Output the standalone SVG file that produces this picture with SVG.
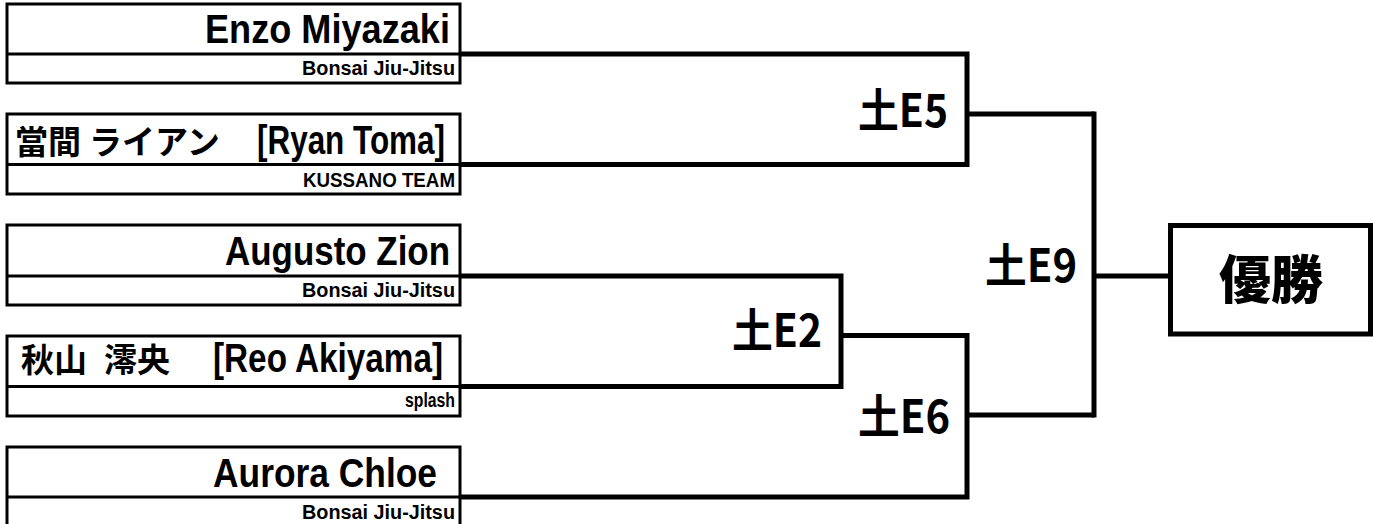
<svg xmlns="http://www.w3.org/2000/svg" width="1373" height="524" viewBox="0 0 1373 524">
<style>
.bx{fill:#fff;stroke:#000;stroke-width:3}
.dv{stroke:#000;stroke-width:3}
.nm{font-family:"Liberation Sans","Noto Sans CJK JP",sans-serif;font-weight:700;font-size:40px;fill:#000}
.cj{font-family:"Noto Sans CJK JP",sans-serif;font-weight:700;font-size:33px}
.tm{font-family:"Liberation Sans","Noto Sans CJK JP",sans-serif;font-weight:700;font-size:20px;fill:#000}
.lb{font-family:"Noto Sans CJK JP",sans-serif;font-weight:700;font-size:46px;fill:#000}
.cn{fill:none;stroke:#000;stroke-width:5;stroke-linejoin:miter;stroke-linecap:butt}
.win{fill:#fff;stroke:#000;stroke-width:5}
.wt{font-family:"Noto Sans CJK JP",sans-serif;font-weight:900;font-size:52px;fill:#000}
</style>
<rect width="1373" height="524" fill="#fff"/>
<g id="connectors">
<polyline class="cn" points="460,54 967,54 967,164.5 460,164.5"/>
<polyline class="cn" points="460,276 841,276 841,386.5 460,386.5"/>
<polyline class="cn" points="841,335.5 967,335.5 967,497 460,497"/>
<line class="cn" x1="967" y1="114" x2="1094" y2="114"/>
<line class="cn" x1="967" y1="415" x2="1094" y2="415"/>
<polyline class="cn" points="1094,111.5 1094,417.5"/>
<line class="cn" x1="1094" y1="276" x2="1170" y2="276"/>
</g>
<g id="player1">
<rect class="bx" x="7" y="4" width="453" height="79"/>
<line class="dv" x1="7" y1="54" x2="460" y2="54"/>
<text class="nm" x="205" y="43" textLength="245" lengthAdjust="spacingAndGlyphs">Enzo Miyazaki</text>
<text class="tm" x="302" y="75" textLength="153" lengthAdjust="spacingAndGlyphs">Bonsai Jiu-Jitsu</text>
</g>
<g id="player2">
<rect class="bx" x="7" y="114" width="453" height="80"/>
<line class="dv" x1="7" y1="164.5" x2="460" y2="164.5"/>
<text class="nm" y="154"><tspan class="cj" x="15">當間</tspan><tspan class="cj" x="89">ライアン</tspan><tspan x="257" textLength="188" lengthAdjust="spacingAndGlyphs">[Ryan Toma]</tspan></text>
<text class="tm" x="303" y="187" textLength="152" lengthAdjust="spacingAndGlyphs">KUSSANO TEAM</text>
</g>
<g id="player3">
<rect class="bx" x="7" y="225" width="453" height="80"/>
<line class="dv" x1="7" y1="276" x2="460" y2="276"/>
<text class="nm" x="225" y="265" textLength="225" lengthAdjust="spacingAndGlyphs">Augusto Zion</text>
<text class="tm" x="302" y="297" textLength="153" lengthAdjust="spacingAndGlyphs">Bonsai Jiu-Jitsu</text>
</g>
<g id="player4">
<rect class="bx" x="7" y="336" width="453" height="80"/>
<line class="dv" x1="7" y1="386.5" x2="460" y2="386.5"/>
<text class="nm" y="372"><tspan class="cj" x="21">秋山</tspan><tspan class="cj" x="104">澪央</tspan><tspan x="213" textLength="230" lengthAdjust="spacingAndGlyphs">[Reo Akiyama]</tspan></text>
<text class="tm" x="405" y="407" textLength="50" lengthAdjust="spacingAndGlyphs">splash</text>
</g>
<g id="player5">
<rect class="bx" x="7" y="447" width="453" height="82"/>
<line class="dv" x1="7" y1="497" x2="460" y2="497"/>
<text class="nm" x="213" y="487" textLength="224" lengthAdjust="spacingAndGlyphs">Aurora Chloe</text>
<text class="tm" x="302" y="519" textLength="153" lengthAdjust="spacingAndGlyphs">Bonsai Jiu-Jitsu</text>
</g>
<g id="match-e5">
<text class="lb" x="858" y="127" textLength="90" lengthAdjust="spacingAndGlyphs">土E5</text>
</g>
<g id="match-e2">
<text class="lb" x="732" y="347" textLength="90" lengthAdjust="spacingAndGlyphs">土E2</text>
</g>
<g id="match-e6">
<text class="lb" x="858" y="433" textLength="92" lengthAdjust="spacingAndGlyphs">土E6</text>
</g>
<g id="match-e9">
<text class="lb" x="985" y="282" textLength="92" lengthAdjust="spacingAndGlyphs">土E9</text>
</g>
<g id="winner">
<rect class="win" x="1170.5" y="225.5" width="200" height="108.5"/>
<text class="wt" x="1271" y="299" text-anchor="middle">優勝</text>
</g>
</svg>
